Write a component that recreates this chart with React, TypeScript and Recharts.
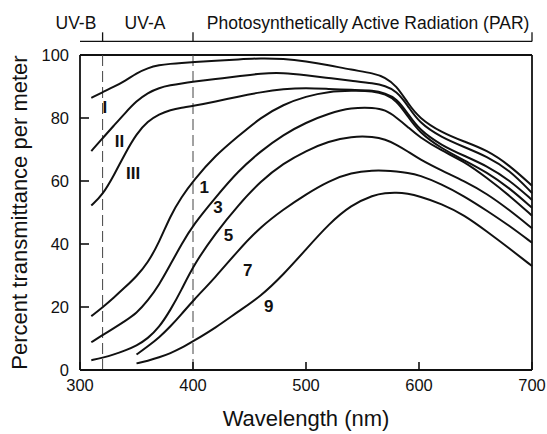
import {
  CartesianGrid,
  Line,
  LineChart,
  ReferenceDot,
  ReferenceLine,
  XAxis,
  YAxis,
} from "recharts";

// wavelength grid (nm) shared by every curve
const wavelengths = [
  310, 320, 330, 340, 350, 360, 370, 380, 390, 400, 420, 440, 460, 480, 500,
  520, 540, 560, 570, 580, 590, 600, 620, 640, 660, 680, 700,
];

// oceanic water types (Jerlov I, II, III)
const typeI = [
  86.4, 88.2, 89.9, 91.8, 94.2, 95.9, 96.8, 97.2, 97.5, 97.7, 98.2, 98.6, 99.0,
  98.8, 98.0, 96.8, 95.3, 94.2, 92.9, 90.3, 84.8, 80.0, 75.4, 72.5, 69.8, 65.0,
  58.5,
];
const typeII = [
  69.5, 73.6, 77.6, 81.6, 85.4, 88.0, 89.6, 90.4, 91.0, 91.5, 92.4, 93.2, 94.2,
  94.4, 93.6, 92.7, 91.8, 91.0, 90.2, 88.6, 84.0, 78.5, 73.8, 70.8, 67.8, 63.5,
  56.2,
];
const typeIII = [
  52.2, 55.6, 61.8, 68.8, 75.0, 79.0, 81.2, 82.6, 83.3, 83.8, 85.2, 86.8, 88.2,
  89.2, 89.6, 89.2, 88.9, 88.8, 87.8, 86.3, 81.5, 76.3, 71.3, 68.0, 64.8, 60.3,
  54.0,
];

// coastal water types (1, 3, 5, 7, 9)
const coastal1 = [
  17.1, 19.9, 23.0, 26.3, 29.7, 34.0, 40.5, 49.0, 55.0, 60.0, 68.2, 74.2, 80.2,
  84.3, 86.9, 88.4, 88.7, 88.6, 87.6, 85.6, 80.6, 75.5, 70.3, 66.6, 62.8, 57.8,
  51.5,
];
const coastal3 = [
  8.8, 11.1, 13.3, 15.6, 18.0, 22.0, 27.0, 33.5, 40.0, 46.0, 54.8, 63.2, 69.5,
  74.7, 78.6, 81.4, 83.3, 83.3, 82.6, 80.2, 77.2, 74.0, 69.6, 66.2, 61.0, 55.4,
  49.0,
];
const coastal5 = [
  3.1, 3.9, 4.9, 6.2, 7.7, 10.0, 13.5, 19.0, 25.5, 33.0, 43.5, 52.3, 60.0, 65.6,
  69.6, 72.6, 74.2, 74.1, 73.2, 71.6, 69.4, 67.0, 63.3, 60.0, 56.0, 50.8, 45.0,
];
const coastal7 = [
  null, null, null, null, 4.9, 7.5, 10.3, 13.8, 17.8, 22.0, 29.5, 38.0, 45.5,
  51.0, 55.8, 60.0, 62.7, 63.4, 63.3, 63.0, 62.6, 61.9, 59.0, 55.2, 50.6, 45.8,
  40.4,
];
const coastal9 = [
  null, null, null, null, 2.1, 2.9, 4.0, 5.3, 7.0, 9.1, 13.4, 18.6, 23.4, 30.3,
  38.3, 46.3, 52.4, 55.6, 56.2, 56.4, 56.0, 55.2, 52.8, 49.2, 44.0, 38.6, 33.0,
];

const seriesKeys = ["I", "II", "III", "c1", "c3", "c5", "c7", "c9"];
const seriesValues = [
  typeI, typeII, typeIII, coastal1, coastal3, coastal5, coastal7, coastal9,
];

// curve labels: text + anchor in data units
const curveLabels = [
  { text: "I", x: 322, y: 83.6 },
  { text: "II", x: 335, y: 72.8 },
  { text: "III", x: 347, y: 62.4 },
  { text: "1", x: 410, y: 58.2 },
  { text: "3", x: 422, y: 51.6 },
  { text: "5", x: 431.5, y: 42.9 },
  { text: "7", x: 448.5, y: 31.7 },
  { text: "9", x: 467, y: 20.3 },
];

// spectral bands drawn above the frame
const bandEdges = [320, 400, 700];
const bandLabels = [
  { text: "UV-B", x: 314.5, y: 110.3, pos: "left" },
  { text: "UV-A", x: 357.5, y: 110.3, pos: "center" },
  {
    text: "Photosynthetically Active Radiation (PAR)",
    x: 555,
    y: 110.3,
    pos: "center",
  },
];

const xTicks = [300, 400, 500, 600, 700];
const yTicks = [0, 20, 40, 60, 80, 100];

const data = wavelengths.map((w, i) => {
  const row: Record<string, number | null> = { w };
  seriesKeys.forEach((k, j) => {
    row[k] = seriesValues[j][i];
  });
  return row;
});

const INK = "#111";
const FRAME = { stroke: INK, strokeWidth: 1.8 };
const TICKLINE = { stroke: INK, strokeWidth: 1.6 };
const BRACKET_Y = 104.3;
const BRACKET_TICK = 107.2;

export default function App() {
  return (
    <div
      style={{
        position: "absolute",
        left: 0,
        top: 0,
        width: 547,
        height: 434,
        background: "#fff",
        fontFamily: '"Liberation Sans", Arial, Helvetica, sans-serif',
      }}
    >
      <LineChart
        width={547}
        height={434}
        data={data}
        margin={{ top: 55, right: 15, bottom: 0, left: 0 }}
      >
        {/* top and right sides of the frame */}
        <CartesianGrid
          horizontalValues={[100]}
          verticalValues={[700]}
          stroke={INK}
          strokeWidth={1.8}
          strokeOpacity={1}
        />
        {/* negative tickSize turns the ticks inward */}
        <XAxis
          dataKey="w"
          type="number"
          domain={[300, 700]}
          ticks={xTicks}
          height={64}
          tickSize={-8}
          tickMargin={17}
          tickLine={TICKLINE}
          axisLine={FRAME}
          tick={{ fill: INK, fontSize: 16.5 }}
          label={{
            value: "Wavelength (nm)",
            position: "insideBottom",
            offset: 8,
            fontSize: 22,
            fill: INK,
          }}
        />
        <YAxis
          type="number"
          domain={[0, 100]}
          ticks={yTicks}
          width={80}
          tickSize={-9}
          tickMargin={20}
          tickLine={TICKLINE}
          axisLine={FRAME}
          tick={{ fill: INK, fontSize: 16.5 }}
          label={{
            value: "Percent transmittance per meter",
            angle: -90,
            position: "insideLeft",
            offset: 19,
            fontSize: 22,
            fill: INK,
            style: { textAnchor: "middle" },
          }}
        />

        <ReferenceLine x={320} stroke="#444" strokeDasharray="11 5" />
        <ReferenceLine x={400} stroke="#444" strokeDasharray="11 5" />

        {/* band bracket above the plot */}
        <ReferenceLine
          segment={[
            { x: 300, y: BRACKET_Y },
            { x: 700, y: BRACKET_Y },
          ]}
          ifOverflow="visible"
          stroke={INK}
          strokeWidth={1.3}
        />
        {bandEdges.map((e) => (
          <ReferenceLine
            key={e}
            segment={[
              { x: e, y: BRACKET_Y },
              { x: e, y: BRACKET_TICK },
            ]}
            ifOverflow="visible"
            stroke={INK}
            strokeWidth={1.3}
          />
        ))}
        {bandLabels.map((b) => (
          <ReferenceDot
            key={b.text}
            x={b.x}
            y={b.y}
            r={0}
            fill="none"
            stroke="none"
            ifOverflow="visible"
            label={{
              value: b.text,
              position: b.pos,
              offset: 0,
              fontSize: 17.5,
              fill: INK,
            }}
          />
        ))}

        {seriesKeys.map((k) => (
          <Line
            key={k}
            dataKey={k}
            type="basis"
            stroke={INK}
            strokeWidth={2}
            dot={false}
            isAnimationActive={false}
          />
        ))}

        {curveLabels.map((c) => (
          <ReferenceDot
            key={c.text}
            x={c.x}
            y={c.y}
            r={0}
            fill="none"
            stroke="none"
            label={{
              value: c.text,
              position: "center",
              fontSize: 17,
              fontWeight: 700,
              fill: INK,
            }}
          />
        ))}
      </LineChart>
    </div>
  );
}
